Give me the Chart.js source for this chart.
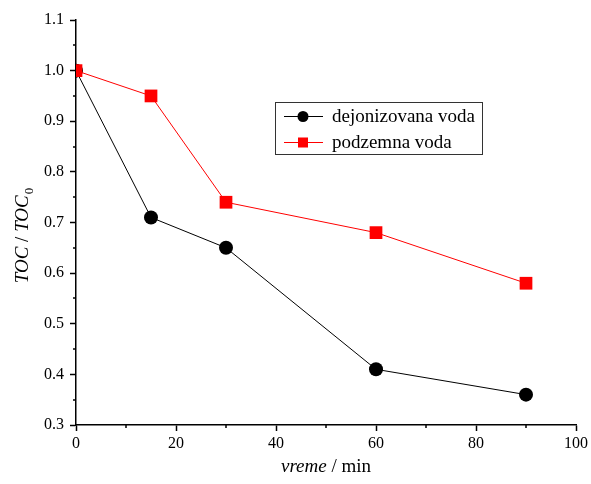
<!DOCTYPE html>
<html>
<head>
<meta charset="utf-8">
<script src="https://cdn.jsdelivr.net/npm/chart.js@4/dist/chart.umd.min.js"></script>
<style>
  html, body { margin: 0; padding: 0; background: #fff; }
  #wrap { width: 591px; height: 484px; }
</style>
</head>
<body>
<div id="wrap"><canvas id="toc"></canvas></div>
<script>
const times = [0, 15, 30, 60, 90];
const deionized = [1.0, 0.71, 0.65, 0.41, 0.36];
const groundwater = [1.0, 0.95, 0.74, 0.68, 0.58];
const seriesNames = ['dejonizovana voda', 'podzemna voda'];
const xTicks = [0, 20, 40, 60, 80, 100];
const yTicks = [0.3, 0.4, 0.5, 0.6, 0.7, 0.8, 0.9, 1.0, 1.1];

const FONT = '"Liberation Serif", "Times New Roman", serif';

// minor ticks, axis titles and the boxed legend
const extras = {
  id: 'extras',
  afterDraw(chart) {
    const { ctx, chartArea, scales } = chart;
    const xs = scales.x, ys = scales.y;
    ctx.save();
    ctx.strokeStyle = '#000';
    ctx.lineWidth = 1.5;
    for (let i = 0; i < xTicks.length - 1; i++) {
      const px = Math.round(xs.getPixelForValue((xTicks[i] + xTicks[i + 1]) / 2));
      ctx.beginPath();
      ctx.moveTo(px, chartArea.bottom);
      ctx.lineTo(px, chartArea.bottom + 3);
      ctx.stroke();
    }
    for (let i = 0; i < yTicks.length - 1; i++) {
      const py = Math.round(ys.getPixelForValue((yTicks[i] + yTicks[i + 1]) / 2));
      ctx.beginPath();
      ctx.moveTo(chartArea.left, py);
      ctx.lineTo(chartArea.left - 3, py);
      ctx.stroke();
    }

    // x title: "vreme / min"
    ctx.fillStyle = '#000';
    ctx.textBaseline = 'alphabetic';
    const it = 'italic 19px ' + FONT, up = '19px ' + FONT;
    ctx.font = it; const w1 = ctx.measureText('vreme').width;
    ctx.font = up; const w2 = ctx.measureText(' / min').width;
    let x0 = (chartArea.left + chartArea.right) / 2 - (w1 + w2) / 2;
    ctx.font = it; ctx.fillText('vreme', x0, 472);
    ctx.font = up; ctx.fillText(' / min', x0 + w1, 472);

    // y title: "TOC / TOC0"
    ctx.save();
    ctx.translate(28, 236);
    ctx.rotate(-Math.PI / 2);
    const parts = [['TOC', it], [' / ', up], ['TOC', it]];
    ctx.font = '13px ' + FONT; const ws = ctx.measureText('0').width;
    let total = ws;
    parts.forEach(p => { ctx.font = p[1]; total += ctx.measureText(p[0]).width; });
    let cx = -total / 2;
    parts.forEach(p => { ctx.font = p[1]; ctx.fillText(p[0], cx, 0); cx += ctx.measureText(p[0]).width; });
    ctx.font = '13px ' + FONT; ctx.fillText('0', cx + 1, 5);
    ctx.restore();

    // legend
    const lx = 275, ly = 102, lw = 207, lh = 52;
    ctx.lineWidth = 1;
    ctx.strokeStyle = '#333';
    ctx.strokeRect(lx + 0.5, ly + 0.5, lw, lh);
    chart.data.datasets.forEach((ds, i) => {
      const y = ly + 14 + i * 26;
      ctx.strokeStyle = ds.borderColor;
      ctx.lineWidth = 1;
      ctx.beginPath(); ctx.moveTo(lx + 9, y + 0.5); ctx.lineTo(lx + 48, y + 0.5); ctx.stroke();
      ctx.fillStyle = ds.pointBackgroundColor;
      const mx = lx + 28;
      if (ds.pointStyle === 'circle') {
        ctx.beginPath(); ctx.arc(mx, y + 0.5, 5.5, 0, Math.PI * 2); ctx.fill();
      } else {
        ctx.fillRect(mx - 5, y - 4.5, 10, 10);
      }
      ctx.fillStyle = '#000';
      ctx.font = up;
      ctx.textBaseline = 'middle';
      ctx.fillText(seriesNames[i], lx + 57, y + 1);
    });
    ctx.restore();
  }
};

new Chart(document.getElementById('toc'), {
  type: 'line',
  data: {
    datasets: [
      {
        label: seriesNames[0],
        data: times.map((t, i) => ({ x: t, y: deionized[i] })),
        order: 1,
        borderColor: '#000', backgroundColor: '#000',
        pointBackgroundColor: '#000', pointBorderColor: '#000', pointBorderWidth: 0,
        pointStyle: 'circle', pointRadius: 7, borderWidth: 1, tension: 0
      },
      {
        label: seriesNames[1],
        data: times.map((t, i) => ({ x: t, y: groundwater[i] })),
        order: 0,
        borderColor: '#ff0000', backgroundColor: '#ff0000',
        pointBackgroundColor: '#ff0000', pointBorderColor: '#ff0000', pointBorderWidth: 0,
        pointStyle: 'rect', pointRadius: 9, borderWidth: 1, tension: 0
      }
    ]
  },
  options: {
    responsive: true,
    maintainAspectRatio: false,
    animation: false,
    layout: { padding: { left: 0, right: 15, top: 20, bottom: 0 } },
    plugins: { legend: { display: false }, tooltip: { enabled: false } },
    scales: {
      x: {
        type: 'linear', min: 0, max: 100,
        afterBuildTicks: s => { s.ticks = xTicks.map(v => ({ value: v })); },
        afterFit: s => { s.height = 59; },
        border: { display: true, color: '#000', width: 1.5 },
        grid: { drawOnChartArea: false, drawTicks: true, tickLength: 6, tickWidth: 1.5, tickColor: '#000' },
        ticks: { color: '#000', font: { family: FONT, size: 16 }, padding: 3, maxRotation: 0 }
      },
      y: {
        type: 'linear', min: 0.3, max: 1.1,
        afterBuildTicks: s => { s.ticks = yTicks.map(v => ({ value: v })); },
        afterFit: s => { s.width = 76; },
        border: { display: true, color: '#000', width: 1.5 },
        grid: { drawOnChartArea: false, drawTicks: true, tickLength: 6, tickWidth: 1.5, tickColor: '#000' },
        ticks: { color: '#000', font: { family: FONT, size: 16 }, padding: 6, callback: v => v.toFixed(1) }
      }
    }
  },
  plugins: [extras]
});
</script>
</body>
</html>
